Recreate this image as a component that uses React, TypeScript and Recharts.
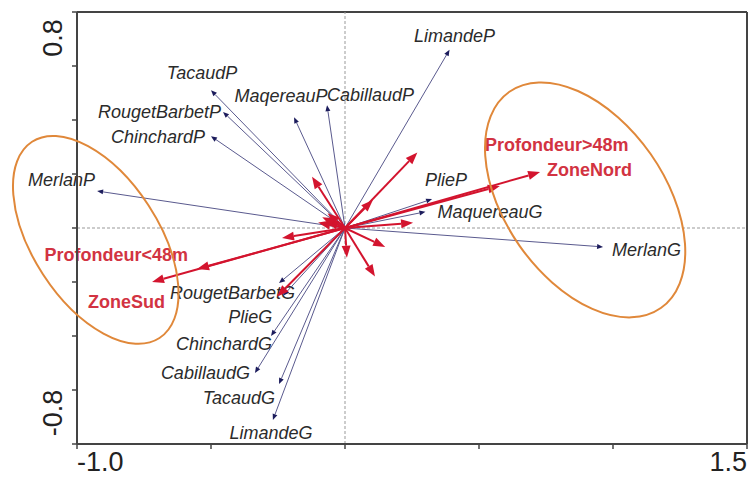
import React from 'react';
import { ComposedChart, XAxis, YAxis, ReferenceLine, ReferenceDot, Scatter } from 'recharts';

// species vectors (axis 1 / axis 2 scores)
const speciesNames = [
  'LimandeP', 'TacaudP', 'RougetBarbetP', 'ChinchardP', 'MaqereauP', 'CabillaudP', 'MerlanP', 'PlieP',
  'MaquereauG', 'MerlanG', 'RougetBarbetG', 'PlieG', 'ChinchardG', 'CabillaudG', 'TacaudG', 'LimandeG',
];
const speciesAxis1 = [0.39, -0.5, -0.455, -0.5, -0.19, -0.067, -0.925, 0.325, 0.3, 0.963, -0.246, -0.23, -0.276, -0.336, -0.246, -0.269];
const speciesAxis2 = [0.66, 0.51, 0.43, 0.34, 0.41, 0.455, 0.137, 0.107, 0.06, -0.07, -0.204, -0.25, -0.4, -0.537, -0.578, -0.711];

// environmental vectors (only four are labelled on the figure)
const envNames = ['ZoneNord', 'Profondeur>48m', 'ZoneSud', 'Profondeur<48m', '', '', '', '', '', '', '', '', '', '', '', '', ''];
const envAxis1 = [0.728, 0.578, -0.72, -0.552, 0.27, 0.104, 0.254, 0.15, 0.112, 0.007, -0.123, -0.235, -0.254, -0.065, -0.07, -0.1, -0.085];
const envAxis2 = [0.207, 0.156, -0.2, -0.152, 0.28, 0.104, 0.019, -0.07, -0.18, -0.11, 0.19, -0.037, -0.255, 0.055, 0.025, 0.02, 0.04];

// site groups circled on the figure
const groupCenterX = [-0.93, 0.896];
const groupCenterY = [-0.044, 0.104];

const xTicks = [-1, -0.5, 0, 0.5, 1, 1.5];
const yTicks = [-0.8, -0.6, -0.4, -0.2, 0, 0.2, 0.4, 0.6, 0.8];

// label placement: [dx, dy, anchor] relative to arrow tip
const labelPlacement: Record<string, [number, number, 'start' | 'middle' | 'end']> = {
  LimandeP: [5, -8, 'middle'],
  TacaudP: [-9, -11, 'middle'],
  RougetBarbetP: [-2, 6, 'end'],
  ChinchardP: [-6, 7, 'end'],
  MaqereauP: [-13, -15, 'middle'],
  CabillaudP: [0, -4, 'start'],
  MerlanP: [-2, -5, 'end'],
  PlieP: [-7, -13, 'start'],
  MaquereauG: [12, 6, 'start'],
  MerlanG: [9, 9, 'start'],
  RougetBarbetG: [16, 16, 'end'],
  PlieG: [-11, 27, 'end'],
  ChinchardG: [1, 14, 'end'],
  CabillaudG: [-5, 6, 'end'],
  TacaudG: [-4, 20, 'end'],
  LimandeG: [-2, 19, 'middle'],
  ZoneNord: [7, 4, 'start'],
  'Profondeur>48m': [-15, -35, 'start'],
  ZoneSud: [13, 26, 'end'],
  'Profondeur<48m': [-9, -8, 'end'],
};

const ellipseSize = [
  { rx: 117, ry: 63, angle: 57 },
  { rx: 132, ry: 80, angle: 55 },
];

const FONT = '"Liberation Sans", Arial, sans-serif';
const AXIS = '#444';
const SPECIES_LINE = '#5a5a8e';
const SPECIES_HEAD = '#1c1c5c';
const ENV_RED = '#d3142e';
const ENV_TEXT = '#d23342';

const tipRows = speciesNames.map((n, i) => ({ x: speciesAxis1[i], y: speciesAxis2[i] }));

const arrowShape = (name: string, env: boolean) => (props: any) => {
  const { x1, y1, x2, y2 } = props;
  const ang = Math.atan2(y2 - y1, x2 - x1);
  const len = env ? 12 : 6;
  const half = env ? 4.5 : 2.5;
  const bx = x2 - len * Math.cos(ang);
  const by = y2 - len * Math.sin(ang);
  const nx = -Math.sin(ang);
  const ny = Math.cos(ang);
  const pts = `${x2},${y2} ${bx + half * nx},${by + half * ny} ${bx - half * nx},${by - half * ny}`;
  const place = labelPlacement[name];
  return (
    <g>
      <line x1={x1} y1={y1} x2={bx} y2={by} stroke={env ? ENV_RED : SPECIES_LINE} strokeWidth={env ? 2 : 1} />
      <polygon points={pts} fill={env ? ENV_RED : SPECIES_HEAD} />
      {name && place && (
        <text
          x={x2 + place[0]}
          y={y2 + place[1]}
          textAnchor={place[2]}
          fontFamily={FONT}
          fontSize={18}
          fontStyle={env ? 'normal' : 'italic'}
          fontWeight={env ? 'bold' : 'normal'}
          fill={env ? ENV_TEXT : '#2b2b2b'}
        >
          {name}
        </text>
      )}
    </g>
  );
};

const ellipseShape = (i: number) => (props: any) => {
  const { cx, cy } = props;
  const s = ellipseSize[i];
  return (
    <ellipse
      cx={cx}
      cy={cy}
      rx={s.rx}
      ry={s.ry}
      transform={`rotate(${s.angle}, ${cx}, ${cy})`}
      fill="none"
      stroke="#e0883a"
      strokeWidth={2}
    />
  );
};

const XTick = (props: any) => {
  const { x, y, payload } = props;
  if (payload.value !== -1 && payload.value !== 1.5) return <g />;
  const isLeft = payload.value === -1;
  return (
    <text x={x} y={y + 20} textAnchor={isLeft ? 'start' : 'end'} fontFamily={FONT} fontSize={27} fill="#222">
      {isLeft ? '-1.0' : '1.5'}
    </text>
  );
};

const YTick = (props: any) => {
  const { x, y, payload } = props;
  if (payload.value !== 0.8 && payload.value !== -0.8) return <g />;
  const top = payload.value === 0.8;
  const cy = top ? y + 26 : y - 31;
  const bx = x - 8;
  return (
    <text
      x={bx}
      y={cy}
      textAnchor="middle"
      transform={`rotate(-90, ${bx}, ${cy})`}
      fontFamily={FONT}
      fontSize={27}
      fill="#222"
    >
      {top ? '0.8' : '-0.8'}
    </text>
  );
};

export default function App() {
  return (
    <div style={{ position: 'absolute', left: 0, top: 0, background: '#fff' }}>
      <ComposedChart width={749} height={480} data={tipRows} margin={{ top: 12, right: 2, left: 0, bottom: 0 }}>
        <XAxis
          type="number"
          dataKey="x"
          domain={[-1, 1.5]}
          ticks={xTicks}
          allowDataOverflow
          height={36}
          tickSize={5}
          axisLine={{ stroke: AXIS, strokeWidth: 2 }}
          tickLine={{ stroke: AXIS, strokeWidth: 1.5 }}
          tick={<XTick />}
          interval={0}
        />
        <YAxis
          type="number"
          dataKey="y"
          domain={[-0.8, 0.8]}
          ticks={yTicks}
          allowDataOverflow
          width={77}
          tickSize={5}
          axisLine={{ stroke: AXIS, strokeWidth: 2 }}
          tickLine={{ stroke: AXIS, strokeWidth: 1.5 }}
          tick={<YTick />}
          interval={0}
        />
        <ReferenceLine y={0.8} stroke={AXIS} strokeWidth={2} />
        <ReferenceLine x={1.5} stroke={AXIS} strokeWidth={2} />
        <ReferenceLine x={0} stroke="#999" strokeDasharray="3 2" strokeWidth={1} />
        <ReferenceLine y={0} stroke="#999" strokeDasharray="3 2" strokeWidth={1} />
        <Scatter dataKey="y" isAnimationActive={false} shape={() => <g />} />
        {groupCenterX.map((gx, i) => (
          <ReferenceDot key={`g${i}`} x={gx} y={groupCenterY[i]} r={1} shape={ellipseShape(i)} />
        ))}
        {speciesNames.map((n, i) => (
          <ReferenceLine
            key={n}
            segment={[{ x: 0, y: 0 }, { x: speciesAxis1[i], y: speciesAxis2[i] }]}
            shape={arrowShape(n, false)}
          />
        ))}
        {envNames.map((n, i) => (
          <ReferenceLine
            key={`e${i}`}
            segment={[{ x: 0, y: 0 }, { x: envAxis1[i], y: envAxis2[i] }]}
            shape={arrowShape(n, true)}
          />
        ))}
      </ComposedChart>
    </div>
  );
}
